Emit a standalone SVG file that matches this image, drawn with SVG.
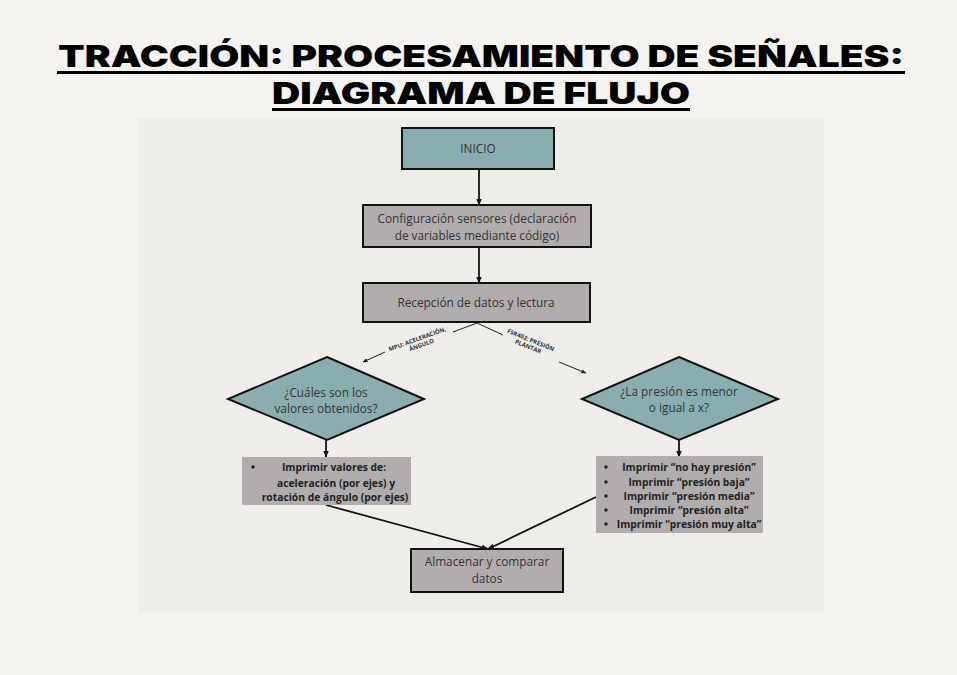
<svg xmlns="http://www.w3.org/2000/svg" width="957" height="675" viewBox="0 0 957 675">
<defs>
<marker id="ah" viewBox="0 0 10 10" refX="9" refY="5" markerWidth="7" markerHeight="7" orient="auto" markerUnits="userSpaceOnUse"><path d="M0,1 L10,5 L0,9 Z" fill="#111"/></marker>
<marker id="ahs" viewBox="0 0 10 10" refX="9" refY="5" markerWidth="5" markerHeight="5" orient="auto" markerUnits="userSpaceOnUse"><path d="M0,1 L10,5 L0,9 Z" fill="#222"/></marker>
</defs>
<style>
.title{font-family:Inter,"Liberation Sans",sans-serif;font-weight:900;font-size:30px;fill:#000;}
.teal{fill:#8aaeb0;stroke:#111;stroke-width:2;}
.gray{fill:#b1adae;stroke:#111;stroke-width:2;}
.plain{fill:#b1adae;}
.t{font-family:"Open Sans","Liberation Sans",sans-serif;font-size:11.8px;fill:#333;text-anchor:middle;}
.b{font-family:"Open Sans","Liberation Sans",sans-serif;font-size:10.3px;font-weight:bold;fill:#222;text-anchor:middle;}
.lbl{font-family:"Open Sans","Liberation Sans",sans-serif;font-size:6px;font-weight:bold;fill:#333;text-anchor:middle;}
.c{stroke:#111;stroke-width:1.8;fill:none;}
.cs{stroke:#222;stroke-width:1;fill:none;}
</style>
<rect width="957" height="675" fill="#f4f3ef"/>
<rect x="138" y="118" width="686" height="494" fill="#eeede9"/>
<g id="title">
<text class="title" x="481" y="67" text-anchor="middle" textLength="846" lengthAdjust="spacingAndGlyphs">TRACCIÓN: PROCESAMIENTO DE SEÑALES:</text>
<rect x="57" y="71" width="848" height="3" fill="#000"/>
<text class="title" x="481" y="104" text-anchor="middle" textLength="418" lengthAdjust="spacingAndGlyphs">DIAGRAMA DE FLUJO</text>
<rect x="272" y="108" width="418" height="3" fill="#000"/>
</g>
<g id="connectors">
<line class="c" x1="479" y1="169" x2="479" y2="205" marker-end="url(#ah)"/>
<line class="c" x1="479" y1="247" x2="479" y2="283" marker-end="url(#ah)"/>
<line class="cs" x1="477" y1="323" x2="453" y2="332"/>
<line class="cs" x1="385" y1="352" x2="363" y2="362" marker-end="url(#ahs)"/>
<line class="cs" x1="477" y1="323" x2="503" y2="335"/>
<line class="cs" x1="559" y1="362" x2="586" y2="373" marker-end="url(#ahs)"/>
<line class="c" x1="326" y1="440" x2="326" y2="457" marker-end="url(#ah)"/>
<line class="c" x1="679" y1="440" x2="679" y2="457" marker-end="url(#ah)"/>
<line class="c" x1="326" y1="505" x2="488" y2="549" marker-end="url(#ah)"/>
<line class="c" x1="596" y1="497" x2="488" y2="549" marker-end="url(#ah)"/>
<text class="lbl" transform="translate(418,341) rotate(-20)"><tspan x="0" y="0">MPU: ACELERACIÓN,</tspan><tspan x="2" y="7">ÁNGULO</tspan></text>
<text class="lbl" transform="translate(530,342) rotate(22)"><tspan x="0" y="0">FSR402: PRESIÓN</tspan><tspan x="0" y="7">PLANTAR</tspan></text>
</g>
<g id="inicio">
<rect class="teal" x="402" y="128" width="152" height="41"/>
<text class="t" x="478" y="153">INICIO</text>
</g>
<g id="config">
<rect class="gray" x="363" y="205" width="228" height="42"/>
<text class="t" x="477" y="223">Configuración sensores (declaración</text>
<text class="t" x="477" y="240">de variables mediante código)</text>
</g>
<g id="recepcion">
<rect class="gray" x="363" y="283" width="227" height="39"/>
<text class="t" x="476" y="307">Recepción de datos y lectura</text>
</g>
<g id="dec-left">
<polygon class="teal" points="327,357 424,399 327,440 228,399"/>
<text class="t" x="326" y="397">¿Cuáles son los</text>
<text class="t" x="326" y="413">valores obtenidos?</text>
</g>
<g id="dec-right">
<polygon class="teal" points="679,357 778,399 679,440 582,399"/>
<text class="t" x="679" y="396">¿La presión es menor</text>
<text class="t" x="679" y="412">o igual a x?</text>
</g>
<g id="print-left">
<rect class="plain" x="242" y="457" width="169" height="48"/>
<circle cx="253" cy="467" r="1.7" fill="#222"/>
<text class="b" x="334" y="471">Imprimir valores de:</text>
<text class="b" x="336" y="487">aceleración (por ejes) y</text>
<text class="b" x="335" y="501">rotación de ángulo (por ejes)</text>
</g>
<g id="print-right">
<rect class="plain" x="596" y="456" width="167" height="77"/>
<g fill="#222">
<circle cx="606" cy="467" r="1.7"/><circle cx="606" cy="482" r="1.7"/><circle cx="606" cy="496" r="1.7"/><circle cx="606" cy="510" r="1.7"/><circle cx="606" cy="524" r="1.7"/>
</g>
<text class="b" x="689" y="471">Imprimir “no hay presión”</text>
<text class="b" x="689" y="486">Imprimir “presión baja”</text>
<text class="b" x="689" y="500">Imprimir “presión media”</text>
<text class="b" x="689" y="514">Imprimir “presión alta”</text>
<text class="b" x="689" y="528">Imprimir “presión muy alta”</text>
</g>
<g id="almacenar">
<rect class="gray" x="411" y="549" width="152" height="43"/>
<text class="t" x="487" y="566">Almacenar y comparar</text>
<text class="t" x="487" y="583">datos</text>
</g>
</svg>
